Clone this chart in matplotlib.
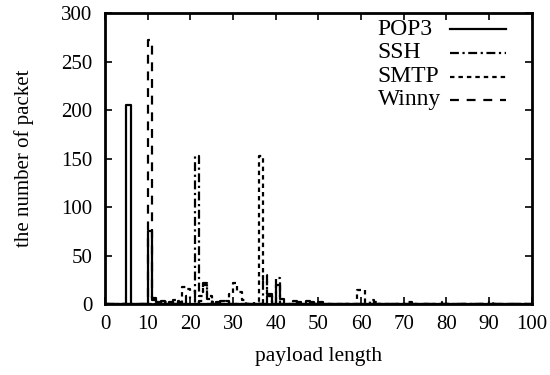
import numpy as np
import matplotlib
matplotlib.use('Agg')
import matplotlib.pyplot as plt

# payload length -> number of packets (only non-zero bins listed)
lengths = np.arange(0, 101)

pop3_len = [5, 10, 11, 12, 15, 38, 40, 41, 45, 48]
pop3_cnt = [205, 75, 4, 2, 2, 8, 20, 5, 2, 2]

ssh_len = [14, 17, 19, 20, 21, 22, 23, 24, 26, 28, 37, 38, 40, 44, 47, 50, 63]
ssh_cnt = [2, 3, 8, 6, 153, 12, 22, 5, 2, 3, 30, 10, 27, 3, 3, 2, 2]

smtp_len = [17, 18, 19, 20, 22, 23, 24, 29, 30, 31, 32, 36, 37, 38, 59, 60, 62, 71, 79, 90]
smtp_cnt = [2, 18, 16, 14, 8, 20, 8, 10, 22, 12, 4, 153, 25, 8, 15, 15, 4, 2, 2, 2]

winny_len = [10, 11, 13, 16, 22, 25, 27, 35]
winny_cnt = [272, 6, 3, 4, 3, 2, 3, 3]

names = ['POP3', 'SSH', 'SMTP', 'Winny']
styles = ['-', (0, (4, 1.6, 1, 1.6)), (0, (2, 1.8)), (0, (4, 3.5))]


def full(idx, vals):
    y = np.zeros(len(lengths))
    y[idx] = vals
    return y


plt.rcParams['font.family'] = ['Liberation Serif', 'DejaVu Serif']
plt.rcParams['font.size'] = 15

fig, ax = plt.subplots(figsize=(5.5, 3.75), dpi=100)
fig.subplots_adjust(left=0.191, right=0.967, top=0.965, bottom=0.189)

series = [(pop3_len, pop3_cnt), (ssh_len, ssh_cnt),
          (smtp_len, smtp_cnt), (winny_len, winny_cnt)]
for (idx, vals), ls in zip(series, styles):
    ax.plot(lengths, full(idx, vals), drawstyle='steps-post',
            color='black', lw=1.6, ls=ls)

ax.set_xlim(0, 100)
ax.set_ylim(0, 300)
ax.set_xticks(range(0, 101, 10))
ax.set_yticks(range(0, 301, 50))
ax.tick_params(direction='in', top=True, right=True, length=5, width=1.2)
ax.tick_params(axis='x', pad=8)
ax.tick_params(axis='y', pad=9)
for s in ax.spines.values():
    s.set_linewidth(2)

ax.set_xlabel('payload length', fontsize=15.5, labelpad=9)
ax.set_ylabel('the number of packet', labelpad=20)

# gnuplot style key: text on the left, sample on the right
rows = [0.945, 0.863, 0.781, 0.702]
for name, ls, yy in zip(names, styles, rows):
    ax.text(0.639, yy, name, transform=ax.transAxes, fontsize=17,
            ha='left', va='center')
    ax.plot([0.808, 0.939], [yy, yy], transform=ax.transAxes,
            color='black', lw=1.6, ls=ls)

fig.savefig('out.png')
